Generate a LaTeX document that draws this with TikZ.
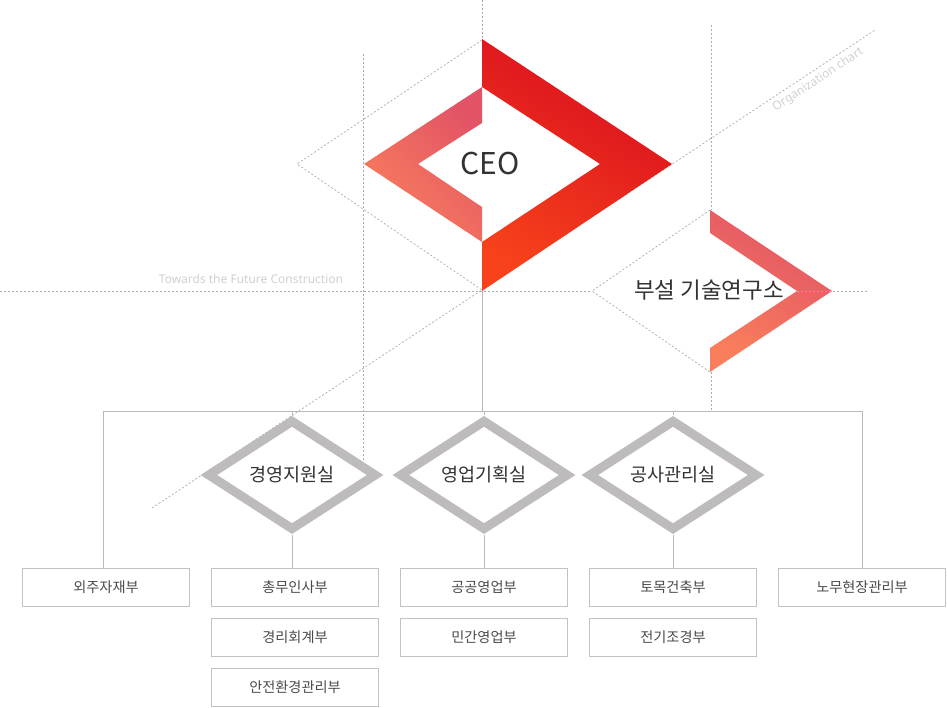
\documentclass[tikz,border=0pt]{standalone}
\usepackage{fontspec}
\setmainfont{Noto Sans CJK KR}
\newfontfamily\latinfont{Noto Sans}
\usepackage{tikz}
\usepackage{xcolor}
\usetikzlibrary{shapes.geometric}
\definecolor{ceored}{HTML}{D90D1F}
\definecolor{ceoorange}{HTML}{F6411B}
\definecolor{pinkred}{HTML}{E25366}
\definecolor{salmon}{HTML}{F97E5C}
\definecolor{linegray}{HTML}{B9B9B9}
\definecolor{dotgray}{HTML}{ABABAB}
\definecolor{officegray}{HTML}{BDBBBC}
\definecolor{boxgray}{HTML}{C2C2C2}
\definecolor{darktext}{HTML}{333333}
\definecolor{boxtext}{HTML}{4A4A4A}
\definecolor{faint}{HTML}{D0D0D0}

\begin{document}
\begin{tikzpicture}[x=1pt,y=-1pt]
	\tikzstyle{dots} = [draw=dotgray, line width=0.7pt, dash pattern=on 2pt off 2pt]
	\tikzstyle{edge} = [draw=linegray, line width=1pt]
	\tikzstyle{office} = [diamond, draw=officegray, line width=9pt, fill=white, minimum width=170pt, minimum height=111pt, inner sep=0pt, text=darktext, font=\fontsize{18.5}{21}\selectfont]
	\tikzstyle{dept} = [rectangle, draw=boxgray, line width=1pt, fill=white, minimum width=167pt, minimum height=38pt, inner sep=0pt, text=boxtext, font=\fontsize{14.2}{17}\selectfont]
	\tikzstyle{faintlabel} = [text=faint, inner sep=0pt, font=\latinfont\fontsize{12}{14}\selectfont]
	\useasboundingbox (0,0) rectangle (947,708);
	\draw[dots] (152,508) -- (875,30);
	\draw[dots] (0,291) -- (592,291);
	\draw[dots] (482,0) -- (482,39);
	\draw[dots] (363,54) -- (363,460);
	\draw[dots] (711,25) -- (711,210);
	\draw[dots] (711,372) -- (711,410);
	\draw[dots] (482,40) -- (297,164) -- (482,290);
	\draw[dots] (710,210) -- (592,291) -- (710,372);
	\node[faintlabel] (motto) at (251,279) {Towards the Future Construction};
	\node[faintlabel, rotate=33.4] (title) at (818,80) {Organization chart};
		\coordinate (top) at (482,291);
		\coordinate (bar) at (482,411);
		\coordinate (barl) at (103,411);
		\coordinate (barr) at (862,411);
	\shade[top color=ceored, bottom color=ceoorange, shading angle=-30] (482,39) -- (672,164) -- (482,291) -- (482,242) -- (600,164) -- (482,87) -- cycle;
	\shade[top color=pinkred, bottom color=salmon, shading angle=-45] (482,87) -- (364,164) -- (482,242) -- (482,207) -- (418,164) -- (482,123) -- cycle;
	\shade[top color=pinkred, bottom color=salmon, shading angle=-30] (710,210) -- (832,291) -- (710,372) -- (710,348) -- (797,291) -- (710,233) -- cycle;
	\draw[dots] (797,291) -- (867,291);
		\node[text=darktext, font=\fontsize{30}{34}\selectfont] (ceo) at (490,164) {CEO};
		\node[text=darktext, font=\fontsize{22.5}{26}\selectfont] (lab) at (709,290) {부설 기술연구소};
		\node[office] (mgmt) at (292,475) {경영지원실};
		\node[office] (sales) at (484,475) {영업기획실};
		\node[office] (cons) at (673,475) {공사관리실};
		\node[dept] (out) at (106,587.5) {외주자재부};
		\node[dept] (gen) at (295,587.5) {총무인사부};
		\node[dept] (acc) at (295,637.5) {경리회계부};
		\node[dept] (safe) at (295,687.5) {안전환경관리부};
		\node[dept] (pub) at (484,587.5) {공공영업부};
		\node[dept] (priv) at (484,637.5) {민간영업부};
		\node[dept] (civ) at (673,587.5) {토목건축부};
		\node[dept] (elec) at (673,637.5) {전기조경부};
		\node[dept] (labor) at (862,587.5) {노무현장관리부};
	\draw[edge] (top) -- (bar);
	\draw[edge] (barl) -- (barr);
	\draw[edge] (barl) -- (barl |- out.north);
	\draw[edge] (barr) -- (labor.north);
	\draw[edge] (mgmt.north |- bar) -- (mgmt.north);
	\draw[edge] (sales.north |- bar) -- (sales.north);
	\draw[edge] (cons.north |- bar) -- (cons.north);
	\draw[edge] (mgmt.south) -- (mgmt.south |- gen.north);
	\draw[edge] (sales.south) -- (sales.south |- pub.north);
	\draw[edge] (cons.south) -- (cons.south |- civ.north);
\end{tikzpicture}
\end{document}
